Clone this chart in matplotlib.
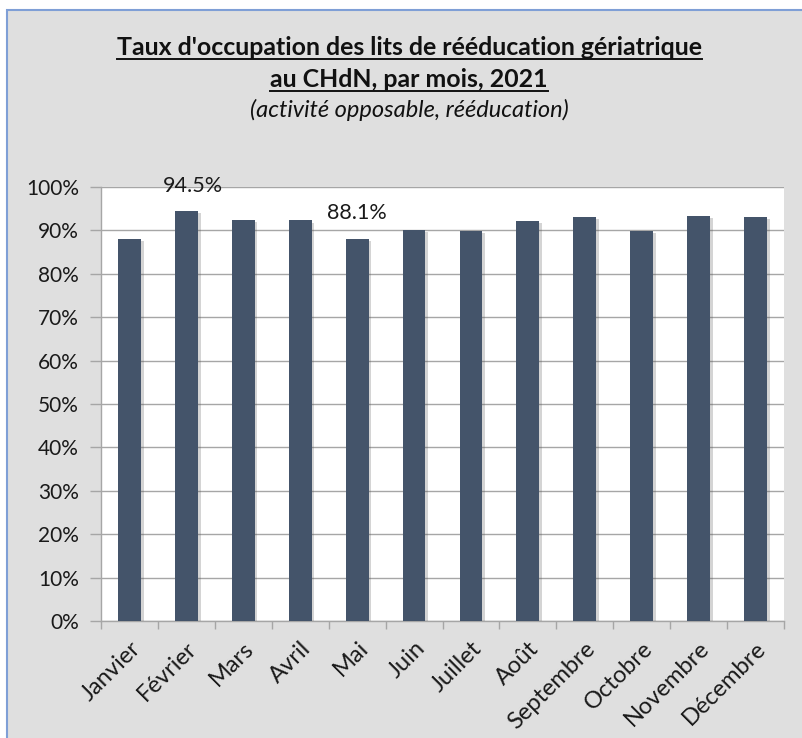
import matplotlib
matplotlib.use("Agg")
import matplotlib.pyplot as plt
import matplotlib.patheffects as pe
from matplotlib.patches import Rectangle
from matplotlib.lines import Line2D
import numpy as np

months = ["Janvier", "Février", "Mars", "Avril", "Mai", "Juin", "Juillet",
          "Août", "Septembre", "Octobre", "Novembre", "Décembre"]
rates = [88.1, 94.5, 92.4, 92.3, 88.1, 90.1, 89.8, 92.2, 93.1, 89.8, 93.4, 93.1]
labelled = {"Février": "94.5%", "Mai": "88.1%"}
yticks = [0, 10, 20, 30, 40, 50, 60, 70, 80, 90, 100]

# label offsets in points (style, not data)
label_offsets = {"Février": (5, 11), "Mai": (0, 11)}

FONT = ["Lato", "DejaVu Sans"]
plt.rcParams['font.family'] = FONT

W, H = 802, 738
fig = plt.figure(figsize=(W / 100, H / 100), dpi=100, facecolor="white")

# chart area background with blue border (top/left visible)
bg = Rectangle((7 / W, -0.05), 1.1, 1.05 - 10 / H, transform=fig.transFigure,
               facecolor="#dfdfdf", edgecolor="#7f9fd6", linewidth=1.5,
               zorder=-10)
fig.patches.append(bg)

ax = fig.add_axes([101 / W, 1 - 621 / H, (784 - 101) / W, (621 - 187) / H])
ax.set_facecolor("white")
ax.set_zorder(1)

x = np.arange(len(months))
bars = ax.bar(x, rates, width=0.40, color="#44546a", zorder=3)
for b in bars:
    b.set_path_effects([pe.SimplePatchShadow(offset=(2, -1.5), alpha=0.25,
                                             shadow_rgbFace="#555555"),
                        pe.Normal()])

for i, m in enumerate(months):
    if m in labelled:
        ax.annotate(labelled[m], (x[i], rates[i]), xytext=label_offsets[m],
                    textcoords="offset points", ha="center", va="bottom",
                    fontsize=15.5, color="#1a1a1a", zorder=5,
                    annotation_clip=False)

ax.set_xlim(-0.5, len(months) - 0.5)
ax.set_ylim(0, 100)
ax.set_yticks(yticks)
ax.set_yticklabels([f"{v}%" for v in yticks], fontsize=15, color="#1a1a1a")
ax.yaxis.grid(True, color="#a6a6a6", linewidth=1.0, zorder=1)
ax.set_axisbelow(True)

ax.set_xticks(x)
ax.set_xticklabels(months, rotation=45, ha="right", rotation_mode="anchor",
                   fontsize=17, color="#1a1a1a")
ax.set_xticks(np.arange(-0.5, len(months)), minor=True)
ax.tick_params(axis="x", which="major", length=0, pad=12)
ax.tick_params(axis="x", which="minor", length=6, color="#a6a6a6", width=1)
ax.tick_params(axis="y", length=8, color="#a6a6a6", width=1, pad=8)

for s in ["top", "right"]:
    ax.spines[s].set_visible(False)
for s in ["left", "bottom"]:
    ax.spines[s].set_color("#a6a6a6")
    ax.spines[s].set_linewidth(1.0)

# titles
cx = 409 / W
t1 = fig.text(cx, 1 - 55 / H, "Taux d'occupation des lits de rééducation gériatrique",
              ha="center", va="baseline", fontsize=17.9, fontweight="bold",
              color="#111111")
t2 = fig.text(cx, 1 - 87 / H, "au CHdN, par mois, 2021",
              ha="center", va="baseline", fontsize=17.9, fontweight="bold",
              color="#111111")
fig.text(cx, 1 - 117 / H, "(activité opposable, rééducation)",
         ha="center", va="baseline", fontsize=17, fontstyle="italic",
         color="#111111")

fig.canvas.draw()
r = fig.canvas.get_renderer()
for t, yl in ((t1, 59), (t2, 91)):
    bb = t.get_window_extent(renderer=r)
    yline = 1 - yl / H
    fig.add_artist(Line2D([bb.x0 / W, bb.x1 / W], [yline, yline],
                          transform=fig.transFigure, color="#111111",
                          linewidth=1.4))

fig.savefig("out.png", dpi=100, facecolor="white")
